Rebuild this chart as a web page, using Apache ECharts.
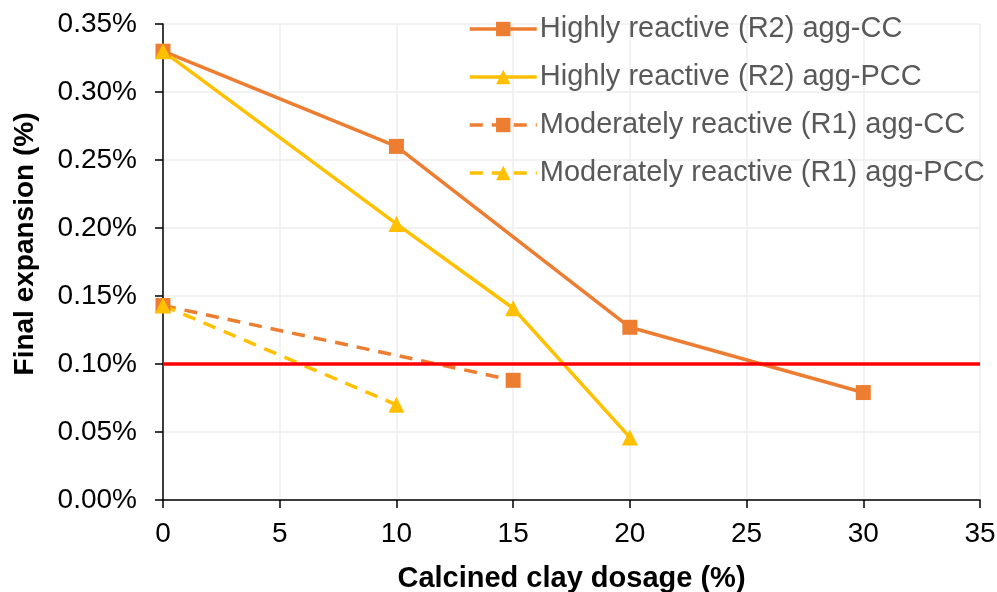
<!DOCTYPE html>
<html><head><meta charset="utf-8">
<script src="https://cdn.jsdelivr.net/npm/echarts@6/dist/echarts.min.js"></script>
<style>html,body{margin:0;padding:0;background:#fff}#c{width:997px;height:592px}</style>
</head><body><div id="c"></div>
<script>
const seriesNames = ["Highly reactive (R2) agg-CC","Highly reactive (R2) agg-PCC","Moderately reactive (R1) agg-CC","Moderately reactive (R1) agg-PCC"];
const r2ccX = [0, 10, 20, 30];
const r2ccY = [0.33, 0.26, 0.127, 0.079];
const r2pccX = [0, 10, 15, 20];
const r2pccY = [0.33, 0.203, 0.141, 0.046];
const r1ccX = [0, 15];
const r1ccY = [0.143, 0.088];
const r1pccX = [0, 10];
const r1pccY = [0.143, 0.070];
const limitValue = 0.10;

const orange = '#ED7D31', gold = '#FFC000';
const zip = (xs, ys) => xs.map((x, i) => [x, ys[i]]);
const FONT = 'Liberation Sans, Arial, sans-serif';

function mk(name, xs, ys, color, symbol, size, dashed) {
  return {
    name, type: 'line', data: zip(xs, ys),
    symbol, symbolSize: size,
    lineStyle: {color, width: 3.5, type: dashed ? [13, 9] : 'solid'},
    itemStyle: {color},
    z: 3
  };
}
const series = [
  mk(seriesNames[0], r2ccX, r2ccY, orange, 'rect', 15, false),
  mk(seriesNames[1], r2pccX, r2pccY, gold, 'triangle', 16, false),
  mk(seriesNames[2], r1ccX, r1ccY, orange, 'rect', 15, true),
  mk(seriesNames[3], r1pccX, r1pccY, gold, 'triangle', 16, true),
];
series[0].markLine = {
  silent: true, symbol: 'none', label: {show: false},
  lineStyle: {color: '#FF0000', width: 3.5, type: 'solid'},
  data: [{yAxis: limitValue}]
};

const chart = echarts.init(document.getElementById('c'));
chart.setOption({
  animation: false,
  textStyle: {fontFamily: FONT},
  grid: {left: 163, right: 17, top: 24, bottom: 92, containLabel: false, outerBoundsMode: 'none'},
  legend: {
    data: seriesNames, orient: 'vertical', left: 463, top: 9,
    itemWidth: 67, itemHeight: 18, itemGap: 18,
    lineStyle: {width: 3.5},
    textStyle: {fontFamily: FONT, fontSize: 29, lineHeight: 30, color: '#595959', padding: [0, 0, 0, -2]}
  },
  xAxis: {
    type: 'value', min: 0, max: 35, interval: 5,
    name: 'Calcined clay dosage (%)', nameLocation: 'middle', nameGap: 64,
    nameTextStyle: {fontFamily: FONT, fontSize: 29, fontWeight: 'bold', color: '#000'},
    axisLine: {lineStyle: {color: '#000', width: 1.5}},
    axisTick: {show: true, length: 8, lineStyle: {color: '#000', width: 1.5}},
    axisLabel: {fontSize: 28, color: '#000', margin: 20},
    splitLine: {show: true, lineStyle: {color: '#EEEEEE', width: 1.5}}
  },
  yAxis: {
    type: 'value', min: 0, max: 0.35, interval: 0.05,
    name: 'Final expansion (%)', nameLocation: 'middle', nameGap: 124, nameRotate: 90,
    nameTextStyle: {fontFamily: FONT, fontSize: 28, fontWeight: 'bold', color: '#000', padding: [0, 0, 0, 36]},
    axisLine: {show: true, lineStyle: {color: '#000', width: 1.5}},
    axisTick: {show: true, length: 8, lineStyle: {color: '#000', width: 1.5}},
    axisLabel: {fontSize: 28, color: '#000', margin: 26, formatter: v => v.toFixed(2) + '%'},
    splitLine: {show: true, lineStyle: {color: '#EEEEEE', width: 1.5}}
  },
  series
});
</script></body></html>
